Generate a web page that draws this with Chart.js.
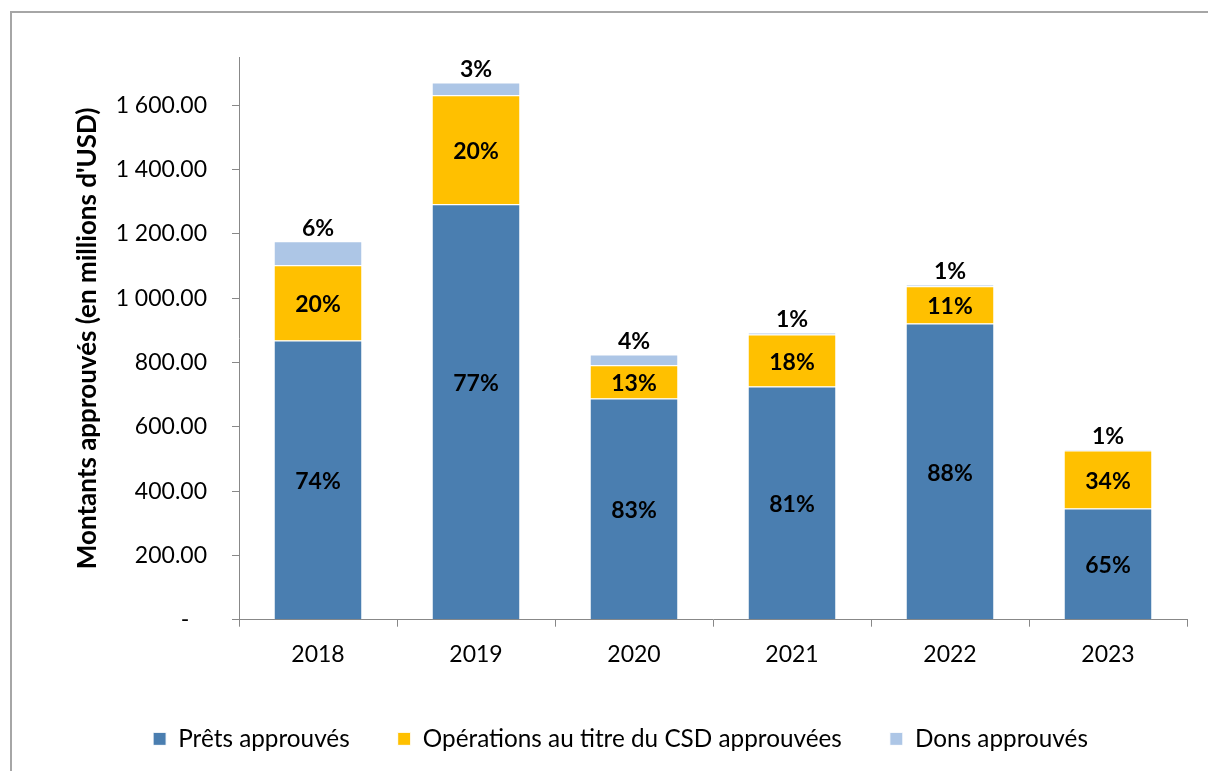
<!DOCTYPE html>
<html>
<head>
<meta charset="utf-8">
<script src="https://cdn.jsdelivr.net/npm/chart.js@4.4.1/dist/chart.umd.min.js"></script>
<style>
  html, body { margin: 0; padding: 0; background: #fff; }
  #wrap { position: relative; width: 1208px; height: 771px; }
  #frame { position: absolute; left: 10px; top: 11px; right: -5px; bottom: -5px;
           border-left: 2px solid #a6a6a6; border-top: 2px solid #a6a6a6; }
  #c { position: absolute; left: 0; top: 0; }
</style>
</head>
<body>
<div id="wrap">
  <div id="frame"></div>
  <canvas id="c" width="1208" height="771"></canvas>
</div>
<script>
// years
const years = ['2018', '2019', '2020', '2021', '2022', '2023'];
// amounts in millions USD
const prets = [868, 1292, 688, 725, 921, 346];
const csd   = [234, 339, 103, 162, 116, 180];
const dons  = [75, 40, 34, 6, 4, 4];
// shares printed on the bars
const pretsPct = ['74%', '77%', '83%', '81%', '88%', '65%'];
const csdPct   = ['20%', '20%', '13%', '18%', '11%', '34%'];
const donsPct  = ['6%', '3%', '4%', '1%', '1%', '1%'];

const FONT = 'Lato';
const pctLabels = [pretsPct, csdPct, donsPct];

const labelPlugin = {
  id: 'pctLabels',
  afterDatasetsDraw(chart) {
    const ctx = chart.ctx;
    ctx.save();
    ctx.font = 'bold 23px ' + FONT;
    ctx.fillStyle = '#000';
    ctx.textAlign = 'center';
    ctx.textBaseline = 'middle';
    chart.data.datasets.forEach((ds, di) => {
      const meta = chart.getDatasetMeta(di);
      meta.data.forEach((bar, i) => {
        const txt = pctLabels[di][i];
        if (di < 2) {
          let y = (bar.y + bar.base) / 2;
          // the 2019 loans label sits higher in the original
          if (di === 0 && i === 1) y -= 30;
          ctx.fillText(txt, bar.x, y + 2);
        } else {
          ctx.fillText(txt, bar.x, bar.y - 13);
        }
      });
    });
    ctx.restore();
  }
};

const fmt = (v) => {
  if (v === 0) return '-   ';
  const s = v.toFixed(2);
  const [a, b] = s.split('.');
  return a.replace(/\B(?=(\d{3})+(?!\d))/g, ' ') + '.' + b;
};

new Chart(document.getElementById('c').getContext('2d'), {
  type: 'bar',
  data: {
    labels: years,
    datasets: [
      { label: 'Prêts approuvés', data: prets, backgroundColor: '#4a7eb0', borderColor: '#ffffff', borderWidth: 1 },
      { label: 'Opérations au titre du CSD approuvées', data: csd, backgroundColor: '#ffc000', borderColor: '#ffffff', borderWidth: 1 },
      { label: 'Dons approuvés', data: dons, backgroundColor: '#adc6e6', borderColor: '#ffffff', borderWidth: 1 }
    ]
  },
  options: {
    responsive: false,
    animation: false,
    layout: { padding: { top: 57, right: 21, left: 54, bottom: 10 } },
    datasets: { bar: { categoryPercentage: 1, barPercentage: 0.56 } },
    plugins: {
      tooltip: { enabled: false },
      legend: {
        position: 'bottom',
        labels: {
          boxWidth: 13,
          boxHeight: 13,
          padding: 48,
          color: '#000',
          font: { family: FONT, size: 24.3 }
        }
      }
    },
    scales: {
      x: {
        stacked: true,
        grid: { offset: true, drawOnChartArea: false, drawTicks: true, tickLength: 7, color: '#888' },
        border: { display: true, color: '#888', width: 1 },
        ticks: { color: '#000', padding: 14, font: { family: FONT, size: 23 } },
        afterFit(scale) { scale.height = 59; }
      },
      y: {
        stacked: true,
        min: 0,
        max: 1750,
        afterBuildTicks(scale) {
          scale.ticks = scale.ticks.filter(t => t.value % 200 === 0);
        },
        grid: { drawOnChartArea: false, drawTicks: true, tickLength: 7, color: '#888' },
        border: { display: true, color: '#888', width: 1 },
        ticks: { stepSize: 200, color: '#000', padding: 25, font: { family: FONT, size: 23 }, callback: fmt },
        title: {
          display: true,
          text: "Montants approuvés (en millions d'USD)",
          color: '#000',
          font: { family: FONT, size: 26, weight: 'bold' },
          padding: { top: 18, bottom: 0 }
        },
        afterFit(scale) { scale.width = 185; }
      }
    }
  },
  plugins: [labelPlugin]
});
</script>
</body>
</html>
